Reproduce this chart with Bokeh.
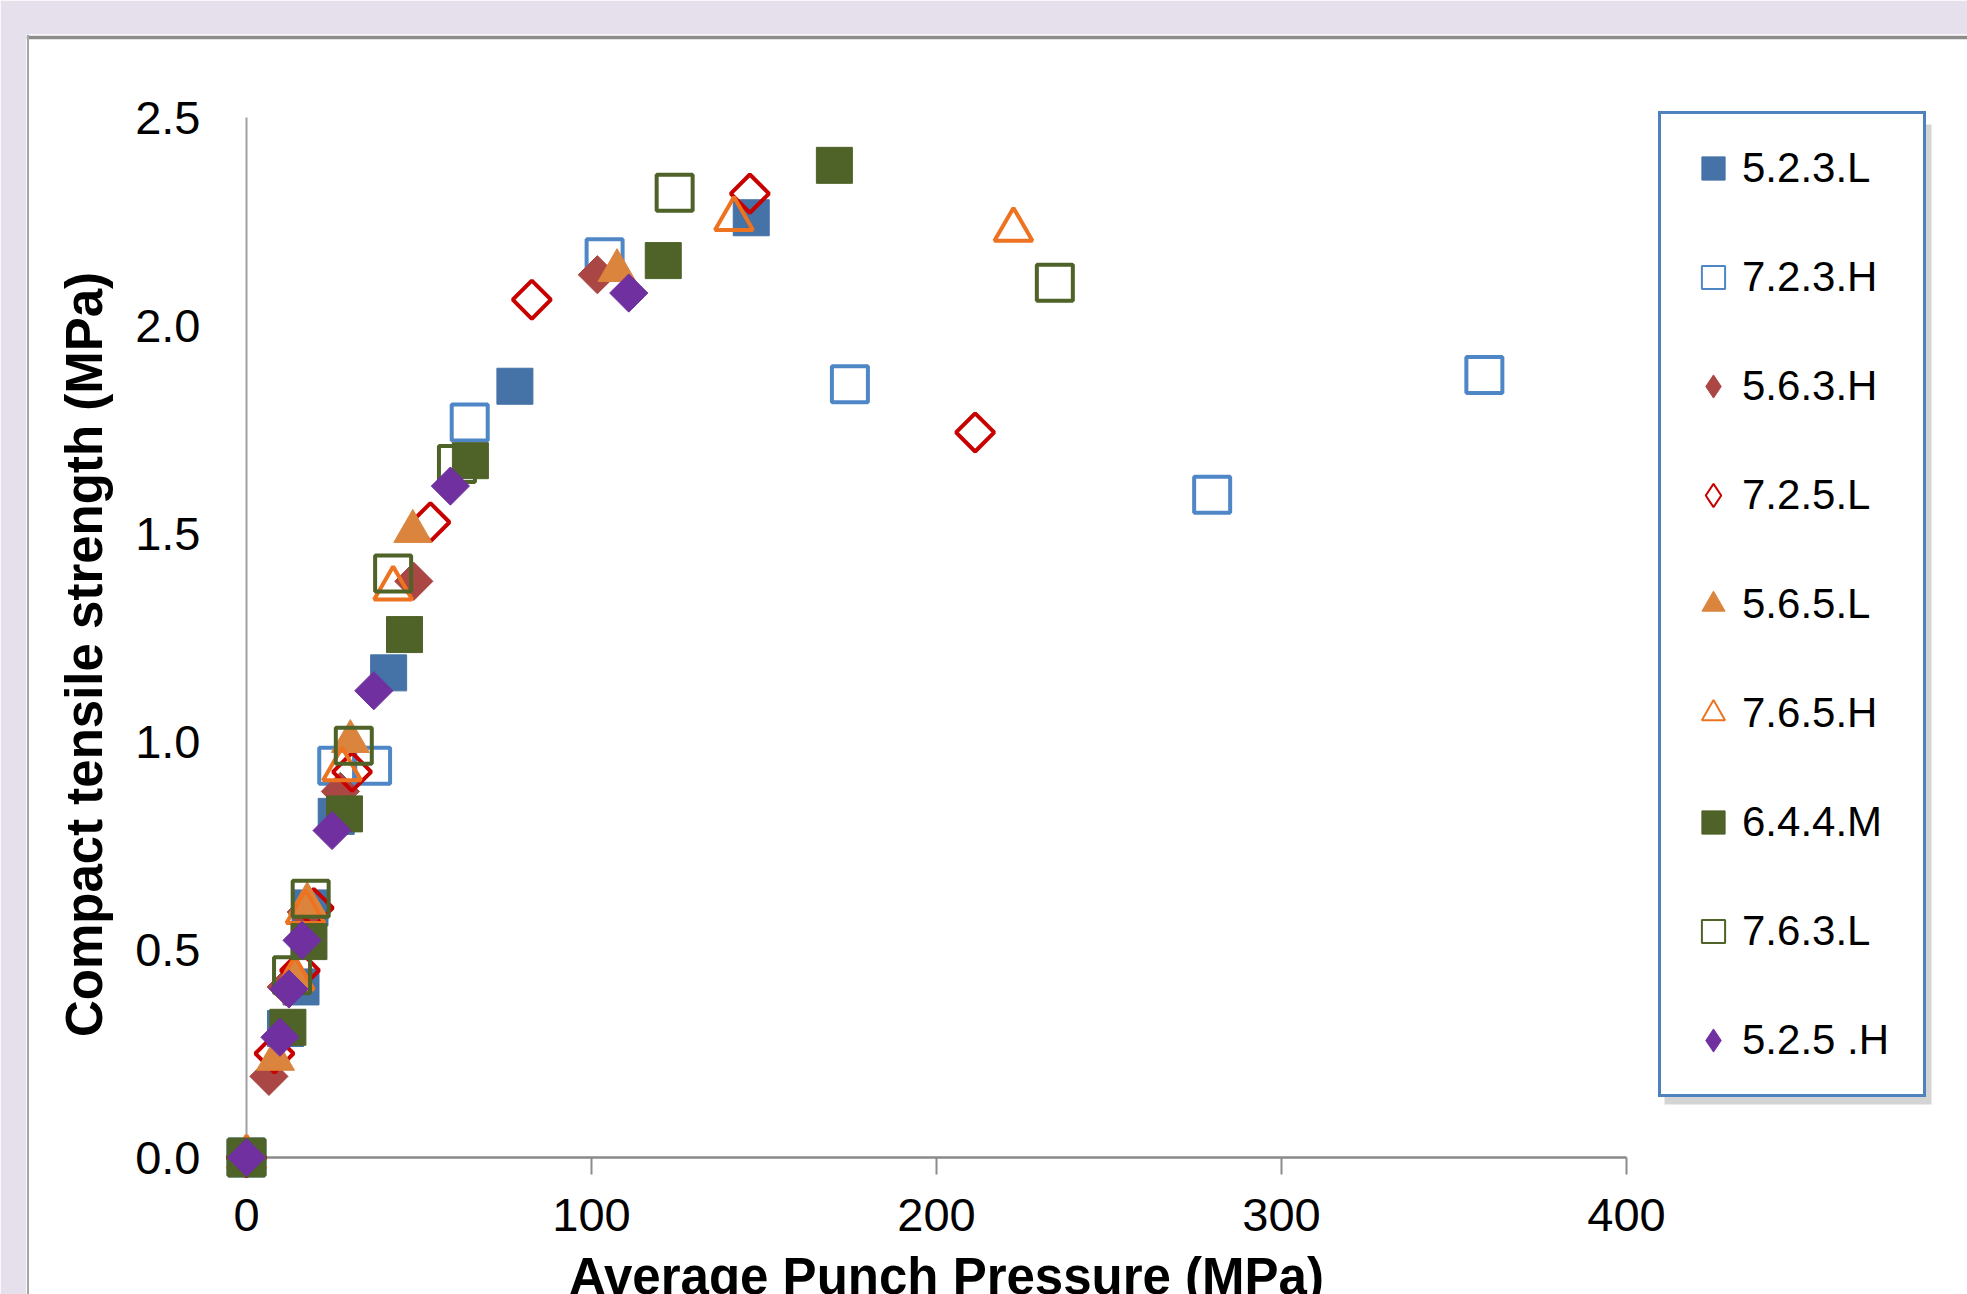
import numpy as np
from bokeh.plotting import figure
from bokeh.models import (Range1d, FixedTicker, PrintfTickFormatter, Span, Label,
                          Legend, LegendItem, BoxAnnotation)
from bokeh.embed import file_html
from bokeh.resources import INLINE

# ---------------- data ----------------
series_names = ["5.2.3.L", "7.2.3.H", "5.6.3.H", "7.2.5.L", "5.6.5.L",
                "7.6.5.H", "6.4.4.M", "7.6.3.L", "5.2.5 .H"]

x_523L = [0, 11.3, 15.8, 18.4, 26.0, 41.2, 77.8, 146.3]
y_523L = [0, 0.31, 0.41, 0.60, 0.82, 1.165, 1.854, 2.259]
x_723H = [0, 26.3, 36.4, 64.7, 103.8, 174.9, 279.9, 358.8]
y_723H = [0, 0.942, 0.942, 1.767, 2.164, 1.859, 1.593, 1.881]
x_563H = [0, 6.5, 11.5, 17.3, 27.2, 48.5, 101.7]
y_563H = [0, 0.195, 0.41, 0.59, 0.88, 1.385, 2.122]
x_725L = [0, 8.1, 15.5, 19.5, 30.6, 53.3, 82.7, 145.9, 211.2]
y_725L = [0, 0.25, 0.45, 0.60, 0.927, 1.527, 2.062, 2.317, 1.743]
x_565L = [0, 8.4, 13.7, 17.6, 30.1, 48.2, 107.4]
y_565L = [0, 0.236, 0.43, 0.61, 1.0, 1.505, 2.132]
x_765H = [0, 14.0, 17.1, 27.7, 42.5, 141.3, 222.3]
y_765H = [0, 0.43, 0.59, 0.933, 1.368, 2.256, 2.23]
x_644M = [0, 12.0, 18.1, 28.4, 45.8, 64.9, 120.8, 170.4]
y_644M = [0, 0.313, 0.519, 0.826, 1.257, 1.675, 2.156, 2.385]
x_763L = [0, 13.2, 18.6, 31.1, 42.5, 61.0, 124.1, 234.3]
y_763L = [0, 0.438, 0.622, 0.99, 1.404, 1.667, 2.319, 2.103]
x_525H = [0, 9.7, 12.3, 16.1, 24.8, 36.9, 59.1, 110.8]
y_525H = [0, 0.289, 0.405, 0.522, 0.786, 1.122, 1.614, 2.078]

x_ticks = [0, 100, 200, 300, 400]
y_ticks = [0.0, 0.5, 1.0, 1.5, 2.0, 2.5]
x_title = "Average Punch Pressure (MPa)"
y_title = "Compact tensile strength (MPa)"

series_x = [x_523L, x_723H, x_563H, x_725L, x_565L, x_765H, x_644M, x_763L, x_525H]
series_y = [y_523L, y_723H, y_563H, y_725L, y_565L, y_765H, y_644M, y_763L, y_525H]

# ---------------- styles ----------------
styles = [
    ("square", "#4572A7", True),
    ("square", "#4F86C6", False),
    ("diamond", "#AA4643", True),
    ("diamond", "#C80000", False),
    ("triangle", "#DB843D", True),
    ("triangle", "#EE7320", False),
    ("square", "#4F6228", True),
    ("square", "#4F6228", False),
    ("diamond", "#7030A0", True),
]

FONT = "Liberation Sans"
LAVENDER = "#E5E0EC"

# ---------------- geometry (page pixels) ----------------
FIG_W, FIG_H = 1967, 1294
FRAME_L, FRAME_T = 26, 34
X0_PX, Y0_PX = 246, 1157          # where x=0 / y=0 fall
PX_X, PX_Y = 3.45, 416.0          # pixels per data unit
x_start = -(X0_PX - FRAME_L) / PX_X
x_end = x_start + (FIG_W - FRAME_L) / PX_X
y_start = -(FIG_H - Y0_PX) / PX_Y
y_end = y_start + (FIG_H - FRAME_T) / PX_Y


def dx(px):
    return (px - X0_PX) / PX_X


def dy(py):
    return (Y0_PX - py) / PX_Y


p = figure(width=FIG_W, height=FIG_H, output_backend="svg", toolbar_location=None,
           x_range=Range1d(x_start, x_end), y_range=Range1d(y_start, y_end),
           min_border_left=FRAME_L, min_border_right=0,
           min_border_top=FRAME_T, min_border_bottom=0,
           background_fill_color="white", border_fill_color=LAVENDER)
p.title.visible = False
p.outline_line_color = None
p.grid.visible = False

# axes crossing at the origin, drawn below the markers
p.xaxis.fixed_location = 0
p.yaxis.fixed_location = 0
p.xaxis.bounds = (x_ticks[0], x_ticks[-1])
p.yaxis.bounds = (y_ticks[0], y_ticks[-1])
p.xaxis.ticker = FixedTicker(ticks=x_ticks)
p.yaxis.ticker = FixedTicker(ticks=y_ticks)
p.xaxis.formatter = PrintfTickFormatter(format="%d")
p.yaxis.formatter = PrintfTickFormatter(format="%.1f")
for ax in (p.xaxis[0], p.yaxis[0]):
    ax.level = "underlay"
    ax.minor_tick_line_color = None
    ax.major_label_text_font = FONT
    ax.major_label_text_font_size = "47px"
    ax.major_label_text_color = "black"
p.xaxis.axis_line_color = "#8A8A8A"
p.xaxis.axis_line_width = 2.5
p.xaxis.major_tick_in = 0
p.xaxis.major_tick_out = 17
p.xaxis.major_tick_line_color = "#8C8C8C"
p.xaxis.major_tick_line_width = 2
p.xaxis.major_label_standoff = 24
p.yaxis.axis_line_color = "#A0A0A0"
p.yaxis.axis_line_width = 2
p.yaxis.major_tick_line_color = None
p.yaxis.major_tick_in = 0
p.yaxis.major_tick_out = 0
p.yaxis.major_label_standoff = 46

# white panel border (top and left edges)
p.add_layout(Span(location=dy(37), dimension="width", line_color="#8C8C8C",
                  line_width=3.5, level="underlay"))
p.add_layout(Span(location=dx(27.5), dimension="height", line_color="#A6A6A6",
                  line_width=2, level="underlay"))

# ---------------- legend swatches (tiny, hidden under the origin markers) ----------------
legend_renderers = []
for xs, ys, (shape, col, filled) in zip(series_x, series_y, styles):
    if filled:
        lr = p.scatter(xs[:1], ys[:1], marker=shape, size=4,
                       fill_color=col, line_color=col, line_width=1)
    else:
        lr = p.scatter(xs[:1], ys[:1], marker=shape, size=4,
                       fill_color=None, line_color=col, line_width=2)
    legend_renderers.append(lr)

# ---------------- markers ----------------
for xs, ys, (shape, col, filled) in zip(series_x, series_y, styles):
    if shape == "diamond":
        kw = dict(marker="square", size=27, angle=np.pi / 4)
    elif shape == "triangle":
        kw = dict(marker="triangle", size=38)
    else:
        kw = dict(marker="square", size=36)
    if filled:
        p.scatter(xs, ys, fill_color=col, line_color=col, line_width=1, **kw)
    else:
        p.scatter(xs, ys, fill_color=None, line_color=col, line_width=4, **kw)

items = [LegendItem(label=name, renderers=[lr])
         for name, lr in zip(series_names, legend_renderers)]

# ---------------- legend ----------------
p.add_layout(BoxAnnotation(left=dx(1664), right=dx(1931), top=dy(124), bottom=dy(1104),
                           fill_color="#A0A0A0", fill_alpha=0.45, line_color=None))
legend = Legend(items=items, location=(1658 - FRAME_L, FIG_H - 1097), margin=0,
                padding=23, spacing=47, glyph_width=58, glyph_height=62,
                label_standoff=0, label_width=158,
                label_text_font=FONT, label_text_font_size="42px", label_text_color="black",
                border_line_color="#4F81BD", border_line_width=3, border_line_alpha=1,
                background_fill_color="white", background_fill_alpha=1)
p.add_layout(legend, "center")

# ---------------- axis titles ----------------
p.add_layout(Label(x=dx(946), y=dy(1276), text=x_title,
                   text_align="center", text_baseline="alphabetic",
                   text_font=FONT, text_font_style="bold", text_font_size="51px",
                   text_color="black"))
p.add_layout(Label(x=dx(84), y=dy(654), text=y_title,
                   angle=np.pi / 2, text_align="center", text_baseline="alphabetic",
                   text_font=FONT, text_font_style="bold", text_font_size="51px",
                   text_color="black"))

open("out.html", "w").write(file_html(p, INLINE))
